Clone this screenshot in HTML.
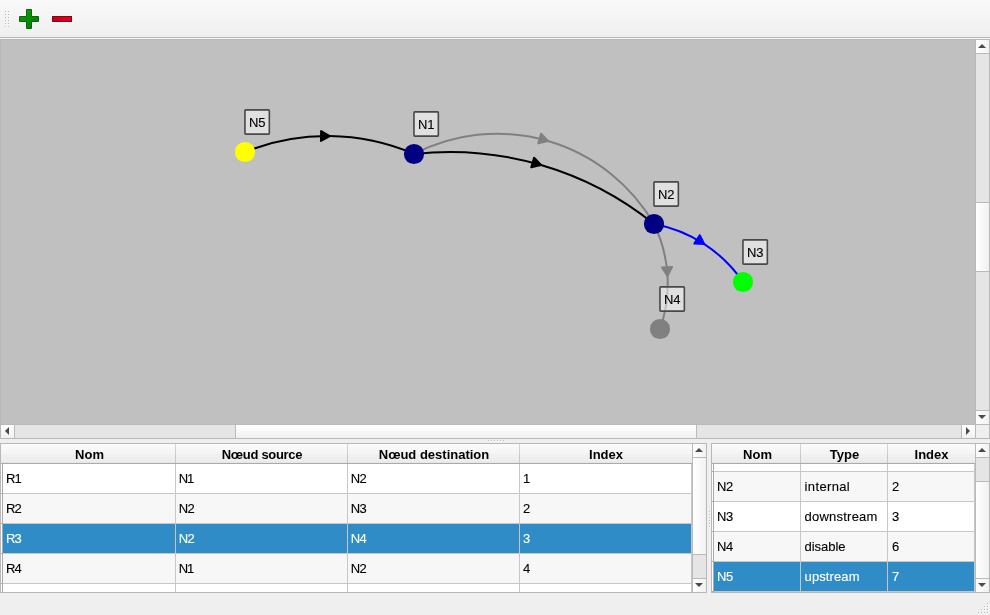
<!DOCTYPE html>
<html lang="fr">
<head>
<meta charset="utf-8">
<title>Réseau</title>
<style>
html,body{margin:0;padding:0;}
body{will-change:transform;width:990px;height:615px;overflow:hidden;background:#efefef;position:relative;font-family:"Liberation Sans","DejaVu Sans",sans-serif;font-size:13px;color:#000;}
.a{position:absolute;}
#toolbar{left:0;top:0;width:990px;height:37px;background:linear-gradient(#f9f9f9,#efefef);}
#tbline{left:0;top:37px;width:990px;height:1px;background:#b7b7b7;}
#tblight{left:0;top:38px;width:990px;height:1px;background:#f5f5f5;}
.dot{position:absolute;width:2px;height:2px;background:#f5f5f5;}
.dot:before{content:"";position:absolute;left:0;top:0;width:1px;height:1px;background:#b9b9b9;}
/* view */
#view{left:0;top:39px;width:988px;height:398px;border:1px solid #b8b8b8;background:#c0c0c0;}
.sb{background:#e5e5e5;}
.btn{background:linear-gradient(#fff,#f1f1f1);}
.btnv{background:linear-gradient(90deg,#fff,#f1f1f1);}
.ln{background:#bababa;}
/* tables */
.frame{border:1px solid #b8b8b8;background:#fff;overflow:hidden;}
.hdr{position:absolute;top:0;height:19px;border-bottom:1px solid #aaa;background:linear-gradient(#fbfbfb 0%,#f4f4f4 50%,#f2f2f2 50.1%,#ececec 92%,#e3e3e3 100%);}
.hsep{position:absolute;top:0;width:1px;height:19px;background:rgba(0,0,0,0.157);}
.ht{position:absolute;top:0;height:19px;line-height:21px;text-align:center;font-weight:bold;white-space:nowrap;}
.row{position:absolute;height:29px;border-bottom:1px solid #c7c7c7;background:#fff;}
.row.alt{background:#f7f7f7;}
.row.sel{background:#308cc6;color:#fff;}
.cell{position:absolute;top:0;height:29px;line-height:29px;white-space:nowrap;-webkit-text-stroke:0.12px currentColor;}
.vg{position:absolute;width:1px;background:#c7c7c7;}
.vh{position:absolute;background:#aaa;}
</style>
</head>
<body>
<!-- toolbar -->
<div id="toolbar" class="a"></div>
<div id="tbline" class="a"></div>
<div id="tblight" class="a"></div>
<div id="grip" class="a" style="left:0;top:0;">
<i class="dot" style="left:5px;top:11px"></i><i class="dot" style="left:8px;top:11px"></i>
<i class="dot" style="left:5px;top:14px"></i><i class="dot" style="left:8px;top:14px"></i>
<i class="dot" style="left:5px;top:17px"></i><i class="dot" style="left:8px;top:17px"></i>
<i class="dot" style="left:5px;top:20px"></i><i class="dot" style="left:8px;top:20px"></i>
<i class="dot" style="left:5px;top:23px"></i><i class="dot" style="left:8px;top:23px"></i>
<i class="dot" style="left:5px;top:26px"></i><i class="dot" style="left:8px;top:26px"></i>
</div>
<svg class="a" style="left:0;top:0" width="90" height="38" viewBox="0 0 90 38">
<defs>
<linearGradient id="gg" x1="0" y1="0" x2="1" y2="1"><stop offset="0" stop-color="#0aa20a"/><stop offset="1" stop-color="#007a00"/></linearGradient>
<linearGradient id="rg" x1="0" y1="0" x2="1" y2="0"><stop offset="0" stop-color="#bf0018"/><stop offset="1" stop-color="#e4001e"/></linearGradient>
</defs>
<path d="M26 9H32V16H39V22H32V29H26V22H19V16H26Z" fill="none" stroke="#fff" stroke-width="2" opacity="0.5"/>
<path d="M26.5 9.5H31.5V16.5H38.5V21.5H31.5V28.5H26.5V21.5H19.5V16.5H26.5Z" fill="url(#gg)" stroke="#0a640a" stroke-width="1"/>
<rect x="52" y="16" width="20" height="6" fill="none" stroke="#fff" stroke-width="2" opacity="0.5"/>
<rect x="52.5" y="16.5" width="19" height="5" fill="url(#rg)" stroke="#8e0012" stroke-width="1"/>
</svg>

<!-- graphics view -->
<div id="view" class="a"></div>
<svg class="a" style="left:1px;top:40px" width="974" height="384" viewBox="1 40 974 384">
<g fill="none" stroke-width="2" stroke-linecap="round">
<path d="M245,152 A219.72,219.72 0 0 1 414,154" stroke="#000"/>
<path d="M414,154 A181.25,181.25 0 0 1 654,224" stroke="#808080"/>
<path d="M414,154 A325.00,325.00 0 0 1 654,224" stroke="#000"/>
<path d="M654,224 A136.72,136.72 0 0 1 660,329" stroke="#808080"/>
<path d="M654,224 A138.10,138.10 0 0 1 743,282" stroke="#0000ff"/>
</g>
<polygon points="329.70,136.10 321.10,131.00 320.98,141.00" fill="#000" stroke="#000" stroke-width="2" stroke-linejoin="round"/>
<polygon points="548.00,141.00 541.09,133.78 538.29,143.38" fill="#808080" stroke="#808080" stroke-width="2" stroke-linejoin="round"/>
<polygon points="541.00,165.00 534.09,157.78 531.29,167.38" fill="#000" stroke="#000" stroke-width="2" stroke-linejoin="round"/>
<polygon points="667.50,275.90 672.00,266.97 662.01,267.54" fill="#808080" stroke="#808080" stroke-width="2" stroke-linejoin="round"/>
<polygon points="704.30,244.10 699.77,235.18 694.31,243.56" fill="#0000ff" stroke="#0000ff" stroke-width="2" stroke-linejoin="round"/>
<circle cx="245" cy="152" r="10.1" fill="#ffff00"/>
<circle cx="414" cy="154" r="10.1" fill="#000080"/>
<circle cx="654" cy="224" r="10.1" fill="#000080"/>
<circle cx="743" cy="282" r="10.1" fill="#00ff00"/>
<circle cx="660" cy="329" r="10.1" fill="#808080"/>
<g fill="rgba(255,255,255,0.5)" stroke="#484848" stroke-width="1.6" stroke-linejoin="round">
<rect x="244.95" y="109.90" width="24.4" height="24.2" rx="0.8" ry="0.8"/>
<rect x="413.95" y="111.90" width="24.4" height="24.2" rx="0.8" ry="0.8"/>
<rect x="653.95" y="181.90" width="24.4" height="24.2" rx="0.8" ry="0.8"/>
<rect x="742.95" y="239.90" width="24.4" height="24.2" rx="0.8" ry="0.8"/>
<rect x="659.95" y="286.90" width="24.4" height="24.2" rx="0.8" ry="0.8"/>
</g>
<g font-family="'Liberation Sans','DejaVu Sans',sans-serif" font-size="13" fill="#000" stroke="#000" stroke-width="0.12" text-anchor="middle">
<text x="257.2" y="126.7">N5</text>
<text x="426.2" y="128.7">N1</text>
<text x="666.2" y="198.7">N2</text>
<text x="755.2" y="256.7">N3</text>
<text x="672.2" y="303.7">N4</text>
</g>
</svg>
<!-- view vertical scrollbar -->
<div class="a sb" style="left:975px;top:40px;width:14px;height:384px;"></div>
<div class="a ln" style="left:975px;top:40px;width:1px;height:384px;"></div>
<div class="a btnv" style="left:976px;top:40px;width:13px;height:13px;"></div>
<div class="a ln" style="left:975px;top:53px;width:14px;height:1px;"></div>
<div class="a btnv" style="left:976px;top:203px;width:13px;height:68px;"></div>
<div class="a ln" style="left:975px;top:202px;width:14px;height:1px;"></div>
<div class="a ln" style="left:975px;top:271px;width:14px;height:1px;"></div>
<div class="a btnv" style="left:976px;top:411px;width:13px;height:13px;"></div>
<div class="a ln" style="left:975px;top:410px;width:14px;height:1px;"></div>
<svg class="a" style="left:976px;top:40px" width="13" height="384" viewBox="0 0 13 384"><path d="M2 8L6 4L10 8Z" fill="#4a4a4a"/><path d="M2 375L6 379L10 375Z" fill="#4a4a4a"/></svg>
<!-- view horizontal scrollbar -->
<div class="a sb" style="left:1px;top:424px;width:974px;height:14px;"></div>
<div class="a ln" style="left:1px;top:424px;width:988px;height:1px;"></div>
<div class="a btn" style="left:1px;top:425px;width:13px;height:13px;"></div>
<div class="a ln" style="left:14px;top:424px;width:1px;height:14px;"></div>
<div class="a btn" style="left:236px;top:425px;width:460px;height:13px;"></div>
<div class="a ln" style="left:235px;top:424px;width:1px;height:14px;"></div>
<div class="a ln" style="left:696px;top:424px;width:1px;height:14px;"></div>
<div class="a btn" style="left:962px;top:425px;width:13px;height:13px;"></div>
<div class="a ln" style="left:961px;top:424px;width:1px;height:14px;"></div>
<div class="a" style="left:976px;top:425px;width:13px;height:13px;background:#efefef;"></div>
<div class="a ln" style="left:975px;top:424px;width:1px;height:14px;"></div>
<svg class="a" style="left:1px;top:425px" width="974" height="13" viewBox="0 0 974 13"><path d="M8 2L4 6L8 10Z" fill="#4a4a4a"/><path d="M965 2L969 6L965 10Z" fill="#4a4a4a"/></svg>

<!-- splitter dots -->
<i class="dot" style="left:488px;top:440px"></i><i class="dot" style="left:491px;top:440px"></i><i class="dot" style="left:494px;top:440px"></i><i class="dot" style="left:497px;top:440px"></i><i class="dot" style="left:500px;top:440px"></i><i class="dot" style="left:503px;top:440px"></i>
<i class="dot" style="left:709px;top:511px"></i><i class="dot" style="left:709px;top:514px"></i><i class="dot" style="left:709px;top:517px"></i><i class="dot" style="left:709px;top:520px"></i><i class="dot" style="left:709px;top:523px"></i><i class="dot" style="left:709px;top:526px"></i>

<!-- left table -->
<div class="a frame" id="lt" style="left:0;top:443px;width:705px;height:148px;">
  <div class="row" style="left:2px;top:20px;width:689px;"><span class="cell" style="left:3px;letter-spacing:-1px">R1</span><span class="cell" style="left:175.7px;letter-spacing:-1px">N1</span><span class="cell" style="left:347.7px;letter-spacing:-0.5px">N2</span><span class="cell" style="left:520px">1</span></div>
  <div class="row alt" style="left:2px;top:50px;width:689px;"><span class="cell" style="left:3px;letter-spacing:-1px">R2</span><span class="cell" style="left:175.7px;letter-spacing:-0.5px">N2</span><span class="cell" style="left:347.7px;letter-spacing:-0.5px">N3</span><span class="cell" style="left:520px">2</span></div>
  <div class="row sel" style="left:2px;top:80px;width:689px;"><span class="cell" style="left:3px;letter-spacing:-1px">R3</span><span class="cell" style="left:175.7px;letter-spacing:-0.5px">N2</span><span class="cell" style="left:347.7px;letter-spacing:-0.5px">N4</span><span class="cell" style="left:520px">3</span></div>
  <div class="row alt" style="left:2px;top:110px;width:689px;"><span class="cell" style="left:3px;letter-spacing:-1px">R4</span><span class="cell" style="left:175.7px;letter-spacing:-1px">N1</span><span class="cell" style="left:347.7px;letter-spacing:-0.5px">N2</span><span class="cell" style="left:520px">4</span></div>
  <div class="row" style="left:2px;top:140px;width:689px;"></div>
  <div class="vg" style="left:174px;top:20px;height:128px;"></div>
  <div class="vg" style="left:346px;top:20px;height:128px;"></div>
  <div class="vg" style="left:518px;top:20px;height:128px;"></div>
  <div class="vg" style="left:690px;top:20px;height:128px;"></div>
  <div class="vh" style="left:1px;top:20px;width:1px;height:128px;"></div>
  <div class="vh" style="left:0px;top:49px;width:2px;height:1px;"></div>
  <div class="vh" style="left:0px;top:79px;width:2px;height:1px;"></div>
  <div class="vh" style="left:0px;top:109px;width:2px;height:1px;"></div>
  <div class="vh" style="left:0px;top:139px;width:2px;height:1px;"></div>
  <div class="hdr" style="left:0;width:691px;"></div>
  <div class="hsep" style="left:174px"></div><div class="hsep" style="left:346px"></div><div class="hsep" style="left:518px"></div>
  <span class="ht" style="left:2px;width:173px;">Nom</span>
  <span class="ht" style="left:175px;width:172px;letter-spacing:-0.3px">Nœud source</span>
  <span class="ht" style="left:347px;width:172px;">Nœud destination</span>
  <span class="ht" style="left:519px;width:172px;">Index</span>
  <!-- scrollbar -->
  <div class="a sb" style="left:691px;top:0;width:14px;height:148px;"></div>
  <div class="a ln" style="left:691px;top:0;width:1px;height:148px;"></div>
  <div class="a btnv" style="left:692px;top:0;width:13px;height:13px;"></div>
  <div class="a ln" style="left:691px;top:13px;width:14px;height:1px;"></div>
  <div class="a btnv" style="left:692px;top:14px;width:13px;height:96px;"></div>
  <div class="a ln" style="left:691px;top:110px;width:14px;height:1px;"></div>
  <div class="a btnv" style="left:692px;top:135px;width:13px;height:13px;"></div>
  <div class="a ln" style="left:691px;top:134px;width:14px;height:1px;"></div>
  <svg class="a" style="left:692px;top:0" width="13" height="148" viewBox="0 0 13 148"><path d="M2 8L6 4L10 8Z" fill="#4a4a4a"/><path d="M2 139L6 143L10 139Z" fill="#4a4a4a"/></svg>
</div>

<!-- right table -->
<div class="a frame" id="rt" style="left:711px;top:443px;width:277px;height:148px;">
  <div class="row" style="left:2px;top:-2px;width:261px;"></div>
  <div class="row alt" style="left:2px;top:28px;width:261px;"><span class="cell" style="left:3px;letter-spacing:-0.5px">N2</span><span class="cell" style="left:90.6px;letter-spacing:0.36px">internal</span><span class="cell" style="left:178px">2</span></div>
  <div class="row" style="left:2px;top:58px;width:261px;"><span class="cell" style="left:3px;letter-spacing:-0.5px">N3</span><span class="cell" style="left:90.6px;letter-spacing:0.22px">downstream</span><span class="cell" style="left:178px">3</span></div>
  <div class="row alt" style="left:2px;top:88px;width:261px;"><span class="cell" style="left:3px;letter-spacing:-0.5px">N4</span><span class="cell" style="left:90.6px;letter-spacing:-0.05px">disable</span><span class="cell" style="left:178px">6</span></div>
  <div class="row sel" style="left:2px;top:118px;width:261px;"><span class="cell" style="left:3px;letter-spacing:-0.5px">N5</span><span class="cell" style="left:90.6px;letter-spacing:0.1px">upstream</span><span class="cell" style="left:178px">7</span></div>
  <div class="vg" style="left:88px;top:20px;height:128px;"></div>
  <div class="vg" style="left:175px;top:20px;height:128px;"></div>
  <div class="vg" style="left:262px;top:20px;height:128px;"></div>
  <div class="vh" style="left:1px;top:20px;width:1px;height:128px;"></div>
  <div class="vh" style="left:0px;top:27px;width:2px;height:1px;"></div>
  <div class="vh" style="left:0px;top:57px;width:2px;height:1px;"></div>
  <div class="vh" style="left:0px;top:87px;width:2px;height:1px;"></div>
  <div class="vh" style="left:0px;top:117px;width:2px;height:1px;"></div>
  <div class="vh" style="left:0px;top:147px;width:2px;height:1px;"></div>
  <div class="hdr" style="left:0;width:263px;"></div>
  <div class="hsep" style="left:88px"></div><div class="hsep" style="left:175px"></div>
  <span class="ht" style="left:2px;width:87px;">Nom</span>
  <span class="ht" style="left:89px;width:87px;">Type</span>
  <span class="ht" style="left:176px;width:87px;">Index</span>
  <!-- scrollbar -->
  <div class="a sb" style="left:263px;top:0;width:14px;height:148px;"></div>
  <div class="a ln" style="left:263px;top:0;width:1px;height:148px;"></div>
  <div class="a btnv" style="left:264px;top:0;width:13px;height:13px;"></div>
  <div class="a ln" style="left:263px;top:13px;width:14px;height:1px;"></div>
  <div class="a btnv" style="left:264px;top:38px;width:13px;height:96px;"></div>
  <div class="a ln" style="left:263px;top:37px;width:14px;height:1px;"></div>
  <div class="a btnv" style="left:264px;top:135px;width:13px;height:13px;"></div>
  <div class="a ln" style="left:263px;top:134px;width:14px;height:1px;"></div>
  <svg class="a" style="left:264px;top:0" width="13" height="148" viewBox="0 0 13 148"><path d="M2 8L6 4L10 8Z" fill="#4a4a4a"/><path d="M2 139L6 143L10 139Z" fill="#4a4a4a"/></svg>
</div>

<!-- size grip -->
<i class="dot" style="left:987px;top:603px"></i>
<i class="dot" style="left:984px;top:606px"></i><i class="dot" style="left:987px;top:606px"></i>
<i class="dot" style="left:981px;top:609px"></i><i class="dot" style="left:984px;top:609px"></i><i class="dot" style="left:987px;top:609px"></i>
<i class="dot" style="left:978px;top:612px"></i><i class="dot" style="left:981px;top:612px"></i><i class="dot" style="left:984px;top:612px"></i><i class="dot" style="left:987px;top:612px"></i>
</body>
</html>
